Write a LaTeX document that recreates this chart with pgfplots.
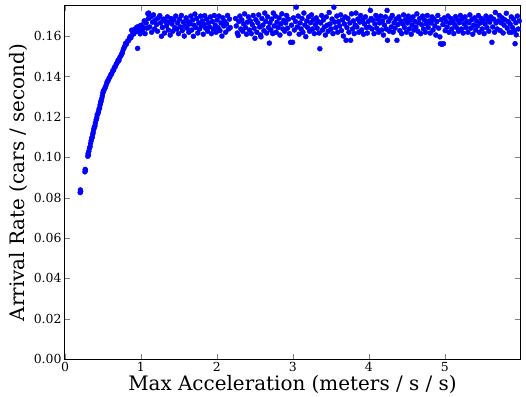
\documentclass[border=0pt]{standalone}
\usepackage{pgfplots}
\pgfplotsset{compat=1.18}
\usepackage{fontspec}
\setmainfont{DejaVu Serif}
\pgfplotstableread{
x y
0.200 0.0825
0.203 0.0838
0.206 0.0830
0.262 0.0928
0.266 0.0940
0.270 0.0935
0.300 0.1005
0.304 0.1018
0.308 0.1010
0.314 0.1030
0.322 0.1045
0.330 0.1052
0.336 0.1068
0.345 0.1082
0.352 0.1095
0.360 0.1100
0.366 0.1115
0.372 0.1125
0.380 0.1140
0.386 0.1150
0.394 0.1155
0.400 0.1170
0.410 0.1185
0.418 0.1195
0.424 0.1210
0.432 0.1215
0.440 0.1225
0.448 0.1238
0.455 0.1245
0.462 0.1260
0.470 0.1272
0.476 0.1280
0.484 0.1292
0.492 0.1305
0.498 0.1318
0.504 0.1328
0.512 0.1332
0.525 0.1342
0.536 0.1352
0.548 0.1365
0.556 0.1375
0.565 0.1378
0.578 0.1390
0.590 0.1398
0.604 0.1410
0.615 0.1415
0.628 0.1428
0.640 0.1432
0.650 0.1445
0.662 0.1450
0.675 0.1462
0.688 0.1470
0.700 0.1482
0.710 0.1480
0.722 0.1495
0.738 0.1505
0.748 0.1512
0.755 0.1520
0.768 0.1535
0.780 0.1545
0.790 0.1552
0.798 0.1565
0.810 0.1562
0.822 0.1575
0.835 0.1578
0.848 0.1590
0.856 0.1598
0.868 0.1592
0.878 0.1630
0.886 0.1608
0.898 0.1620
0.905 0.1612
0.918 0.1635
0.930 0.1622
0.945 0.1645
0.956 0.1540
0.965 0.1630
0.978 0.1650
0.990 0.1612
1.000 0.1640
1.005 0.1655
1.018 0.1631
1.030 0.1643
1.043 0.1676
1.055 0.1613
1.068 0.1666
1.080 0.1640
1.090 0.1712
1.097 0.1688
1.102 0.1715
1.115 0.1646
1.128 0.1696
1.140 0.1620
1.152 0.1670
1.165 0.1706
1.178 0.1636
1.190 0.1681
1.205 0.1658
1.218 0.1625
1.230 0.1691
1.248 0.1702
1.258 0.1666
1.270 0.1600
1.282 0.1643
1.295 0.1685
1.310 0.1616
1.322 0.1673
1.336 0.1651
1.348 0.1696
1.360 0.1631
1.372 0.1670
1.385 0.1606
1.396 0.1688
1.408 0.1661
1.420 0.1625
1.433 0.1681
1.446 0.1643
1.458 0.1700
1.470 0.1636
1.483 0.1666
1.495 0.1613
1.508 0.1685
1.520 0.1646
1.532 0.1703
1.545 0.1628
1.558 0.1670
1.570 0.1601
1.582 0.1651
1.595 0.1691
1.606 0.1640
1.618 0.1673
1.630 0.1620
1.643 0.1661
1.656 0.1700
1.668 0.1631
1.680 0.1681
1.690 0.1600
1.697 0.1655
1.710 0.1710
1.722 0.1643
1.735 0.1688
1.748 0.1616
1.760 0.1666
1.772 0.1636
1.785 0.1700
1.797 0.1651
1.808 0.1676
1.820 0.1610
1.832 0.1658
1.840 0.1702
1.852 0.1640
1.865 0.1685
1.877 0.1625
1.890 0.1667
1.902 0.1646
1.915 0.1696
1.928 0.1613
1.940 0.1673
1.952 0.1636
1.965 0.1703
1.978 0.1655
1.990 0.1620
2.003 0.1681
2.015 0.1643
2.028 0.1700
2.040 0.1628
2.053 0.1666
2.066 0.1601
2.078 0.1691
2.090 0.1651
2.102 0.1673
2.115 0.1620
2.127 0.1661
2.140 0.1703
2.152 0.1636
2.165 0.1685
2.175 0.1643
2.245 0.1688
2.255 0.1651
2.268 0.1616
2.280 0.1604
2.290 0.1673
2.302 0.1700
2.315 0.1636
2.328 0.1681
2.340 0.1625
2.352 0.1661
2.365 0.1711
2.378 0.1643
2.390 0.1610
2.402 0.1670
2.415 0.1696
2.428 0.1631
2.440 0.1676
2.453 0.1613
2.466 0.1658
2.478 0.1703
2.490 0.1640
2.500 0.1590
2.512 0.1682
2.525 0.1620
2.538 0.1667
2.550 0.1706
2.562 0.1646
2.575 0.1606
2.580 0.1597
2.592 0.1688
2.605 0.1655
2.618 0.1628
2.630 0.1715
2.642 0.1673
2.655 0.1616
2.668 0.1696
2.680 0.1643
2.690 0.1566
2.697 0.1666
2.710 0.1631
2.722 0.1685
2.735 0.1613
2.742 0.1715
2.755 0.1651
2.768 0.1700
2.780 0.1620
2.792 0.1670
2.805 0.1643
2.818 0.1691
2.830 0.1606
2.842 0.1661
2.855 0.1711
2.868 0.1636
2.880 0.1679
2.892 0.1625
2.905 0.1666
2.918 0.1703
2.930 0.1640
2.942 0.1685
2.955 0.1613
2.970 0.1570
2.982 0.1655
2.996 0.1570
3.008 0.1691
3.020 0.1631
3.035 0.1673
3.045 0.1744
3.058 0.1646
3.070 0.1700
3.082 0.1610
3.095 0.1666
3.108 0.1636
3.120 0.1688
3.132 0.1620
3.145 0.1715
3.158 0.1655
3.170 0.1598
3.182 0.1676
3.195 0.1643
3.208 0.1696
3.220 0.1625
3.232 0.1667
3.245 0.1706
3.258 0.1636
3.270 0.1682
3.282 0.1613
3.295 0.1658
3.308 0.1691
3.320 0.1640
3.332 0.1673
3.345 0.1616
3.355 0.1538
3.365 0.1666
3.378 0.1703
3.390 0.1631
3.402 0.1681
3.415 0.1646
3.428 0.1606
3.440 0.1696
3.452 0.1655
3.465 0.1625
3.478 0.1718
3.490 0.1661
3.502 0.1636
3.515 0.1685
3.528 0.1613
3.540 0.1744
3.552 0.1670
3.565 0.1643
3.578 0.1700
3.590 0.1620
3.602 0.1673
3.615 0.1651
3.628 0.1706
3.640 0.1628
3.652 0.1681
3.665 0.1601
3.678 0.1661
3.690 0.1696
3.700 0.1580
3.712 0.1643
3.725 0.1688
3.738 0.1620
3.750 0.1666
3.760 0.1580
3.772 0.1711
3.785 0.1636
3.797 0.1676
3.808 0.1613
3.820 0.1655
3.830 0.1715
3.842 0.1646
3.855 0.1685
3.868 0.1620
3.880 0.1670
3.892 0.1703
3.905 0.1631
3.918 0.1681
3.930 0.1610
3.942 0.1661
3.955 0.1696
3.968 0.1643
3.980 0.1616
3.992 0.1673
4.005 0.1646
4.020 0.1728
4.030 0.1688
4.042 0.1636
4.055 0.1679
4.068 0.1613
4.080 0.1661
4.092 0.1703
4.105 0.1640
4.118 0.1685
4.130 0.1620
4.142 0.1666
4.155 0.1700
4.168 0.1631
4.180 0.1676
4.192 0.1606
4.205 0.1655
4.218 0.1696
4.230 0.1636
4.240 0.1728
4.245 0.1580
4.258 0.1673
4.270 0.1625
4.282 0.1688
4.295 0.1646
4.308 0.1703
4.320 0.1620
4.332 0.1667
4.345 0.1640
4.358 0.1685
4.370 0.1580
4.382 0.1658
4.395 0.1696
4.408 0.1628
4.420 0.1676
4.432 0.1613
4.445 0.1661
4.458 0.1706
4.470 0.1643
4.482 0.1682
4.495 0.1620
4.508 0.1666
4.520 0.1700
4.532 0.1636
4.545 0.1679
4.558 0.1610
4.570 0.1655
4.582 0.1696
4.595 0.1631
4.608 0.1673
4.620 0.1646
4.632 0.1711
4.645 0.1625
4.658 0.1667
4.670 0.1688
4.682 0.1613
4.695 0.1658
4.708 0.1700
4.720 0.1636
4.732 0.1681
4.745 0.1620
4.758 0.1661
4.770 0.1703
4.782 0.1643
4.795 0.1676
4.808 0.1616
4.820 0.1666
4.832 0.1696
4.845 0.1631
4.858 0.1685
4.870 0.1651
4.882 0.1606
4.895 0.1673
4.908 0.1703
4.920 0.1640
4.935 0.1597
4.942 0.1563
4.955 0.1682
4.962 0.1560
4.975 0.1658
4.982 0.1563
4.992 0.1691
5.005 0.1628
5.018 0.1673
5.030 0.1646
5.042 0.1700
5.055 0.1620
5.068 0.1666
5.080 0.1688
5.092 0.1636
5.105 0.1676
5.118 0.1613
5.130 0.1658
5.142 0.1697
5.155 0.1643
5.168 0.1681
5.180 0.1625
5.192 0.1667
5.205 0.1703
5.218 0.1636
5.230 0.1685
5.242 0.1616
5.255 0.1661
5.268 0.1696
5.280 0.1643
5.292 0.1673
5.305 0.1620
5.318 0.1667
5.330 0.1706
5.342 0.1640
5.355 0.1682
5.368 0.1610
5.380 0.1655
5.392 0.1691
5.405 0.1631
5.418 0.1676
5.430 0.1651
5.442 0.1703
5.455 0.1620
5.468 0.1666
5.480 0.1688
5.492 0.1636
5.505 0.1679
5.518 0.1613
5.530 0.1661
5.542 0.1700
5.555 0.1643
5.568 0.1682
5.580 0.1625
5.592 0.1670
5.605 0.1696
5.620 0.1570
5.630 0.1646
5.642 0.1685
5.655 0.1620
5.665 0.1718
5.675 0.1666
5.690 0.1636
5.705 0.1676
5.718 0.1703
5.730 0.1628
5.742 0.1667
5.755 0.1691
5.768 0.1616
5.780 0.1655
5.792 0.1681
5.810 0.1714
5.822 0.1640
5.835 0.1673
5.848 0.1620
5.860 0.1661
5.875 0.1696
5.880 0.1620
5.892 0.1643
5.905 0.1685
5.918 0.1628
5.925 0.1563
5.935 0.1667
5.940 0.1607
5.955 0.1700
5.968 0.1636
5.980 0.1676
5.992 0.1613
}\rates
\begin{document}
\begin{tikzpicture}
\useasboundingbox (-65bp,-38bp) rectangle (461bp,359bp);
\begin{axis}[
  scale only axis, width=455bp, height=353bp,
  xmin=0, xmax=5.99, ymin=0, ymax=0.175,
  xtick={0,1,2,3,4,5},
  ytick={0,0.02,0.04,0.06,0.08,0.10,0.12,0.14,0.16},
  scaled y ticks=false,
  yticklabel style={/pgf/number format/.cd, fixed, fixed zerofill, precision=2},
  /pgf/number format/assume math mode=true,
  tick label style={font=\fontsize{12.5}{14}\selectfont},
  label style={font=\fontsize{20}{23}\selectfont},
  tick align=inside, xtick pos=both, ytick pos=both,
  major tick length=5bp,
  axis line style={line width=1bp},
  xlabel={Max Acceleration (meters / s / s)},
  ylabel={Arrival Rate (cars / second)},
  xlabel style={yshift=3bp},
  ylabel style={yshift=-1bp},
]
\addplot[only marks, mark=*, mark size=2.5bp, blue, mark options={draw=blue, fill=blue}] table {\rates};
\end{axis}
\end{tikzpicture}
\end{document}
